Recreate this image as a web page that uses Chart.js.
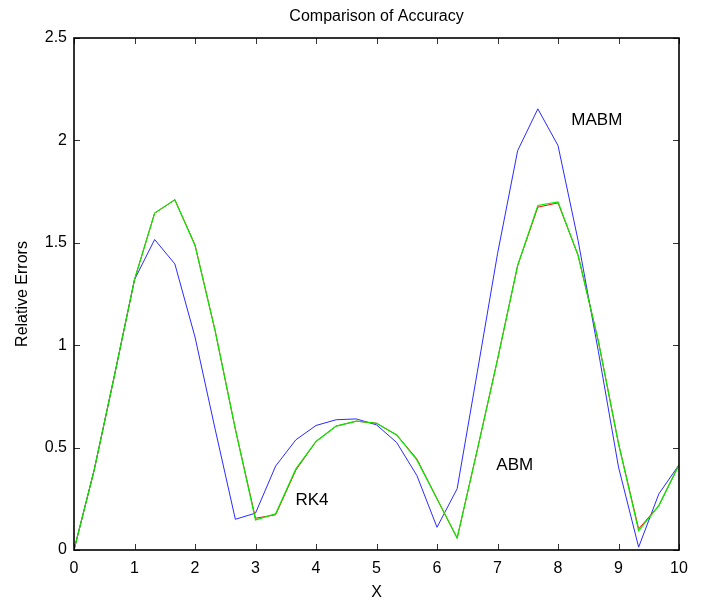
<!DOCTYPE html>
<html>
<head>
<meta charset="utf-8">
<script src="https://cdn.jsdelivr.net/npm/chart.js@4.4.1/dist/chart.umd.min.js"></script>
<style>
  html, body { margin: 0; padding: 0; background: #ffffff; }
  #wrap { width: 701px; height: 604px; position: relative; }
</style>
</head>
<body>
<div id="wrap"><canvas id="c" width="701" height="604"></canvas></div>
<script>
// ---- data ----
const xValues = [0, 0.333, 0.667, 1, 1.333, 1.667, 2, 2.333, 2.667, 3, 3.333, 3.667, 4, 4.333, 4.667, 5,
                 5.333, 5.667, 6, 6.333, 6.667, 7, 7.333, 7.667, 8, 8.333, 8.667, 9, 9.333, 9.667, 10];
const mabmErrors = [0, 0.39, 0.85, 1.32, 1.516, 1.397, 1.04, 0.59, 0.15, 0.18, 0.41, 0.538, 0.608, 0.636, 0.64, 0.611,
                    0.525, 0.364, 0.111, 0.299, 0.87, 1.446, 1.95, 2.154, 1.975, 1.51, 0.97, 0.405, 0.014, 0.274, 0.416];
const rk4Errors = [0, 0.39, 0.85, 1.32, 1.645, 1.71, 1.49, 1.07, 0.59, 0.155, 0.172, 0.39, 0.53, 0.605, 0.629, 0.619,
                   0.562, 0.445, 0.25, 0.058, 0.49, 0.93, 1.389, 1.674, 1.695, 1.438, 1.02, 0.52, 0.103, 0.217, 0.416];
const abmErrors = [0, 0.39, 0.85, 1.32, 1.645, 1.71, 1.487, 1.07, 0.59, 0.147, 0.177, 0.396, 0.53, 0.605, 0.629, 0.619,
                   0.562, 0.44, 0.25, 0.058, 0.49, 0.93, 1.389, 1.682, 1.70, 1.438, 1.02, 0.52, 0.095, 0.217, 0.416];
const xTicks = [0, 1, 2, 3, 4, 5, 6, 7, 8, 9, 10];
const yTicks = [0, 0.5, 1, 1.5, 2, 2.5];
const chartTitle = 'Comparison of Accuracy';
const xTitle = 'X';
const yTitle = 'Relative Errors';
const annotations = [
  { text: 'MABM', x: 8.22, y: 2.097 },
  { text: 'RK4', x: 3.66, y: 0.242 },
  { text: 'ABM', x: 6.98, y: 0.413 }
];

const FONT = "'Liberation Sans', Arial, Helvetica, sans-serif";
const pts = ys => xValues.map((x, i) => ({ x: x, y: ys[i] }));

const framePlugin = {
  id: 'frame',
  afterDatasetsDraw(chart) {
    const ctx = chart.ctx;
    const a = chart.chartArea;
    const xs = chart.scales.x, ys = chart.scales.y;
    ctx.save();
    // inward tick marks on all four sides
    ctx.strokeStyle = '#333333';
    ctx.lineWidth = 1;
    ctx.beginPath();
    xTicks.forEach(v => {
      const px = Math.round(xs.getPixelForValue(v)) + 0.5;
      ctx.moveTo(px, a.bottom); ctx.lineTo(px, a.bottom - 6);
      ctx.moveTo(px, a.top); ctx.lineTo(px, a.top + 6);
    });
    yTicks.forEach(v => {
      const py = Math.round(ys.getPixelForValue(v)) + 0.5;
      ctx.moveTo(a.left, py); ctx.lineTo(a.left + 6, py);
      ctx.moveTo(a.right, py); ctx.lineTo(a.right - 6, py);
    });
    ctx.stroke();
    // box
    ctx.strokeStyle = '#000000';
    ctx.lineWidth = 1.6;
    ctx.strokeRect(a.left, a.top, a.right - a.left, a.bottom - a.top);
    // annotations
    ctx.fillStyle = '#000000';
    ctx.font = '17px ' + FONT;
    ctx.textAlign = 'left';
    ctx.textBaseline = 'middle';
    annotations.forEach(t => {
      ctx.fillText(t.text, xs.getPixelForValue(t.x), ys.getPixelForValue(t.y));
    });
    // title centred over the plot area
    ctx.font = '16px ' + FONT;
    ctx.textAlign = 'center';
    ctx.fillText(chartTitle, (a.left + a.right) / 2, 17);
    ctx.restore();
  }
};

new Chart(document.getElementById('c'), {
  type: 'line',
  data: {
    datasets: [
      { label: 'MABM', data: pts(mabmErrors), borderColor: '#2a2aff', borderWidth: 1, order: 2 },
      { label: 'RK4', data: pts(rk4Errors), borderColor: '#ff0000', borderWidth: 1, order: 1 },
      { label: 'ABM', data: pts(abmErrors), borderColor: '#00ee00', borderWidth: 1.2, order: 0 }
    ]
  },
  options: {
    responsive: false,
    animation: false,
    events: [],
    layout: { padding: { top: 38, right: 22, left: 0, bottom: 0 } },
    elements: { point: { radius: 0 }, line: { tension: 0, fill: false } },
    plugins: { legend: { display: false }, tooltip: { enabled: false }, title: { display: false } },
    scales: {
      x: {
        type: 'linear', min: 0, max: 10,
        afterBuildTicks: s => { s.ticks = xTicks.map(v => ({ value: v })); },
        afterFit: s => { s.height = 54; },
        grid: { display: false, drawTicks: false },
        border: { display: false },
        ticks: { padding: 9, color: '#000', font: { family: FONT, size: 16 }, maxRotation: 0, callback: v => String(v) },
        title: { display: true, text: xTitle, color: '#000', font: { family: FONT, size: 16 }, padding: { top: 0, bottom: 1.5 } }
      },
      y: {
        type: 'linear', min: 0, max: 2.5,
        afterBuildTicks: s => { s.ticks = yTicks.map(v => ({ value: v })); },
        afterFit: s => { s.width = 74; },
        grid: { display: false, drawTicks: false },
        border: { display: false },
        ticks: { padding: 7, color: '#000', font: { family: FONT, size: 16 }, callback: v => String(v) },
        title: { display: true, text: yTitle, color: '#000', font: { family: FONT, size: 16 }, padding: { top: 12.5, bottom: 0 } }
      }
    }
  },
  plugins: [framePlugin]
});
</script>
</body>
</html>
